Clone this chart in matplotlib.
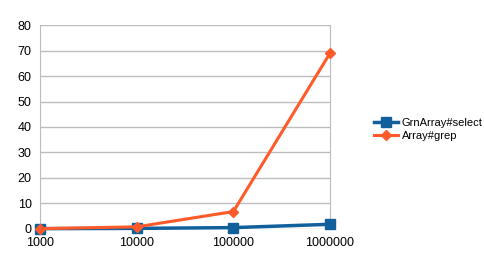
import matplotlib
matplotlib.use('Agg')
import matplotlib.pyplot as plt

sizes = ['1000', '10000', '100000', '1000000']
grn_select = [0.1, 0.2, 0.5, 1.8]
array_grep = [0.1, 0.8, 6.8, 69.0]

plt.rcParams['font.family'] = ['Liberation Sans', 'DejaVu Sans']

fig = plt.figure(figsize=(4.85, 2.64), dpi=100)
ax = fig.add_axes([0.0825, 0.133, 0.598, 0.772])

x = range(len(sizes))
ax.plot(x, grn_select, color='#11609c', lw=2.5, marker='s', ms=7,
        label='GrnArray#select', clip_on=False, zorder=3)
ax.plot(x, array_grep, color='#ff5a2a', lw=2.2, marker='D', ms=5,
        label='Array#grep', clip_on=False, zorder=4)

ax.set_xlim(0, 3)
ax.set_ylim(0, 80)
ax.set_yticks(range(0, 81, 10))
ax.set_xticks(list(x))
ax.set_xticklabels(sizes)
ax.tick_params(axis='both', labelsize=9, length=0, colors='black')
ax.tick_params(axis='y', pad=6)
ax.tick_params(axis='x', pad=6)
ax.grid(axis='y', color='#bdbdbd', lw=1)
ax.set_axisbelow(True)
for s in ['top', 'bottom']:
    ax.spines[s].set_visible(False)
for s in ['left', 'right']:
    ax.spines[s].set_color('#bdbdbd')

fig.legend(loc='center left', bbox_to_anchor=(0.75, 0.51), frameon=False,
           fontsize=8, handlelength=2.2, labelspacing=0.3, handletextpad=0.3)

fig.savefig('out.png', dpi=100)
